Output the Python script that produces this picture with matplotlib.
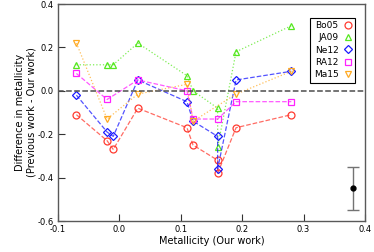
import numpy as np
import matplotlib
matplotlib.use('Agg')
import matplotlib.pyplot as plt

plt.rcParams['axes.unicode_minus'] = False
plt.rcParams['font.family'] = 'DejaVu Sans'

# Datos
x_bo05 = [-0.07, -0.02, -0.01, 0.03, 0.11, 0.12, 0.16, 0.16, 0.19, 0.28]
y_bo05 = [-0.11, -0.23, -0.27, -0.08, -0.17, -0.25, -0.32, -0.38, -0.17, -0.11]

x_ja09 = [-0.07, -0.02, -0.01, 0.03, 0.11, 0.12, 0.16, 0.16, 0.19, 0.28]
y_ja09 = [0.12, 0.12, 0.12, 0.22, 0.07, 0.00, -0.08, -0.26, 0.18, 0.30]

x_ne12 = [-0.07, -0.02, -0.01, 0.03, 0.11, 0.12, 0.16, 0.16, 0.19, 0.28]
y_ne12 = [-0.02, -0.19, -0.21, 0.05, -0.05, -0.14, -0.21, -0.36, 0.05, 0.09]

x_ra12 = [-0.07, -0.02, 0.03, 0.11, 0.12, 0.16, 0.19, 0.28]
y_ra12 = [0.08, -0.04, 0.05, 0.00, -0.13, -0.13, -0.05, -0.05]

x_ma15 = [-0.07, -0.02, 0.03, 0.11, 0.12, 0.19, 0.28]
y_ma15 = [0.22, -0.13, -0.015, 0.03, -0.14, -0.015, 0.09]

# barra de error tipica
err_x = 0.38
err_y = -0.45
err_dy = 0.1

series = [
    ('Bo05', x_bo05, y_bo05, '#ff3b30', 'o', '--'),
    ('JA09', x_ja09, y_ja09, '#55e81f', '^', ':'),
    ('Ne12', x_ne12, y_ne12, '#1a1aff', 'D', '--'),
    ('RA12', x_ra12, y_ra12, '#ff22ff', 's', '--'),
    ('Ma15', x_ma15, y_ma15, '#ffaa22', 'v', ':'),
]

fig = plt.figure(figsize=(3.74, 2.52), dpi=100)
ax = fig.add_axes([0.155, 0.123, 0.821, 0.861])

for name, xs, ys, c, m, ls in series:
    ax.plot(xs, ys, linestyle=ls, color=c, lw=0.9, alpha=0.75)
    ms = 4.0 if m == 'D' else 5.0
    ax.plot(xs, ys, linestyle='none', marker=m, markersize=ms, mfc='none',
            mec=c, mew=0.9, label=name)

ax.axhline(0, color='0.3', ls='--', lw=1.1)
ax.errorbar([err_x], [err_y], yerr=[err_dy], fmt='o', color='k', ms=3.5,
            ecolor='0.45', elinewidth=1.0, capsize=4, capthick=1.0)

ax.set_xlim(-0.1, 0.4)
ax.set_ylim(-0.6, 0.4)
ax.set_xticks(np.arange(-0.1, 0.41, 0.1))
ax.set_yticks(np.arange(-0.6, 0.41, 0.2))
ax.set_xticklabels(['-0.1', '0.0', '0.1', '0.2', '0.3', '0.4'])
ax.set_yticklabels(['-0.6', '-0.4', '-0.2', '0.0', '0.2', '0.4'])
ax.tick_params(direction='in', length=5, width=0.8, labelsize=6, color='0.2',
               top=False, right=False, pad=3)
for s in ax.spines.values():
    s.set_color('0.35')
    s.set_linewidth(1.0)

ax.set_xlabel('Metallicity (Our work)', fontsize=7, labelpad=1)
ax.set_ylabel('Difference in metallicity\n(Previous work - Our work)', fontsize=7,
              labelpad=0.5)

leg = ax.legend(loc='upper right', markerfirst=False, fontsize=6.5, fancybox=False,
                edgecolor='k', framealpha=1, handlelength=0.8, handletextpad=0.6,
                borderpad=0.4, labelspacing=0.35, bbox_to_anchor=(0.982, 0.958))
leg.get_frame().set_linewidth(0.8)

fig.savefig('out.png', dpi=100)
